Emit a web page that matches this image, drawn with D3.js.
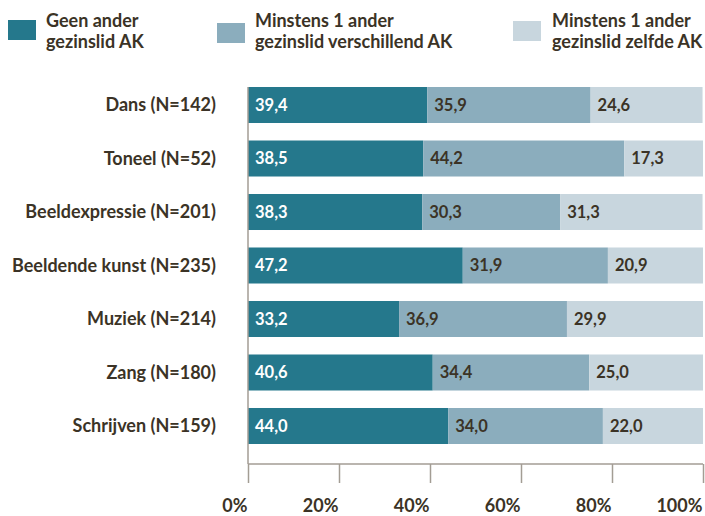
<!DOCTYPE html>
<html><head><meta charset="utf-8">
<script src="https://cdn.jsdelivr.net/npm/d3@7"></script>
<style>
html,body{margin:0;padding:0;background:#fff;}
text{font-family:Lato, "Open Sans", sans-serif;font-weight:700;}
</style></head>
<body><svg id="chart" width="705" height="516"></svg>
<script>
const categories = ["Dans (N=142)","Toneel (N=52)","Beeldexpressie (N=201)","Beeldende kunst (N=235)","Muziek (N=214)","Zang (N=180)","Schrijven (N=159)"];
const seriesNames = [["Geen ander","gezinslid AK"],["Minstens 1 ander","gezinslid verschillend AK"],["Minstens 1 ander","gezinslid zelfde AK"]];
const geenAnder = [39.4,38.5,38.3,47.2,33.2,40.6,44.0];
const verschillendAK = [35.9,44.2,30.3,31.9,36.9,34.4,34.0];
const zelfdeAK = [24.6,17.3,31.3,20.9,29.9,25.0,22.0];
const tickValues = [0,20,40,60,80,100];

const colors = ["#25788c","#8badbd","#c8d6de"];
const labelColors = ["#ffffff","#3b3326","#3b3326"];
const textColor = "#3b3326";
const axisColor = "#a39d94";

const svg = d3.select("#chart");
const x = d3.scaleLinear().domain([0,100]).range([248,703]);
const y = d3.scaleBand().domain(categories).range([87,444]).paddingInner(0.327).paddingOuter(0);

const stackData = categories.map((c,i)=>({cat:c, s0:geenAnder[i], s1:verschillendAK[i], s2:zelfdeAK[i]}));
const series = d3.stack().keys(["s0","s1","s2"])(stackData);

series.forEach((s,si)=>{
  const g = svg.append("g");
  g.selectAll("rect").data(s).join("rect")
    .attr("x", d=>x(d[0]))
    .attr("y", d=>y(d.data.cat))
    .attr("width", d=>x(d[1])-x(d[0]))
    .attr("height", y.bandwidth())
    .attr("fill", colors[si]);
  g.selectAll("text").data(s).join("text")
    .attr("x", d=>x(d[0])+7)
    .attr("y", d=>y(d.data.cat)+y.bandwidth()/2)
    .attr("dy","0.36em")
    .attr("fill", labelColors[si])
    .style("font-size","16.5px")
    .text(d=>(d[1]-d[0]).toFixed(1).replace(".",","));
});

svg.append("g").selectAll("text").data(categories).join("text")
  .attr("x",216).attr("y",d=>y(d)+y.bandwidth()/2).attr("dy","0.36em")
  .attr("text-anchor","end").attr("fill",textColor).style("font-size","18px")
  .text(d=>d);

const axisY = 464;
const axisG = svg.append("g").attr("transform",`translate(0,${axisY})`)
  .call(d3.axisBottom(x).tickValues(tickValues).tickSize(19).tickFormat(d=>d+"%"));
axisG.select(".domain").remove();
axisG.selectAll(".tick line").attr("stroke",axisColor).attr("stroke-width",1.5);
axisG.selectAll(".tick text").attr("text-anchor","end").attr("x",-1).attr("y",35)
  .attr("dy","0.71em").attr("fill",textColor).style("font-size","18px")
  .style("font-family","Lato, sans-serif").style("font-weight","700");
svg.append("line").attr("x1",x(0)).attr("x2",x(100)).attr("y1",axisY).attr("y2",axisY)
  .attr("stroke",axisColor).attr("stroke-width",1.5);
svg.append("line").attr("x1",x(0)).attr("x2",x(0)).attr("y1",y(categories[0])).attr("y2",axisY)
  .attr("stroke",axisColor).attr("stroke-width",1.5);

const legendX = [8,217,513];
const legendRectY = [20,23,21];
const legendTextX = [46,255,552];
seriesNames.forEach((n,i)=>{
  svg.append("rect").attr("x",legendX[i]).attr("y",legendRectY[i]).attr("width",28).attr("height",20).attr("fill",colors[i]);
  const t = svg.append("text").attr("x",legendTextX[i]).attr("y",27).attr("fill",textColor).style("font-size","18px");
  t.append("tspan").attr("x",legendTextX[i]).text(n[0]);
  t.append("tspan").attr("x",legendTextX[i]).attr("y",48).text(n[1]);
});
</script></body></html>
